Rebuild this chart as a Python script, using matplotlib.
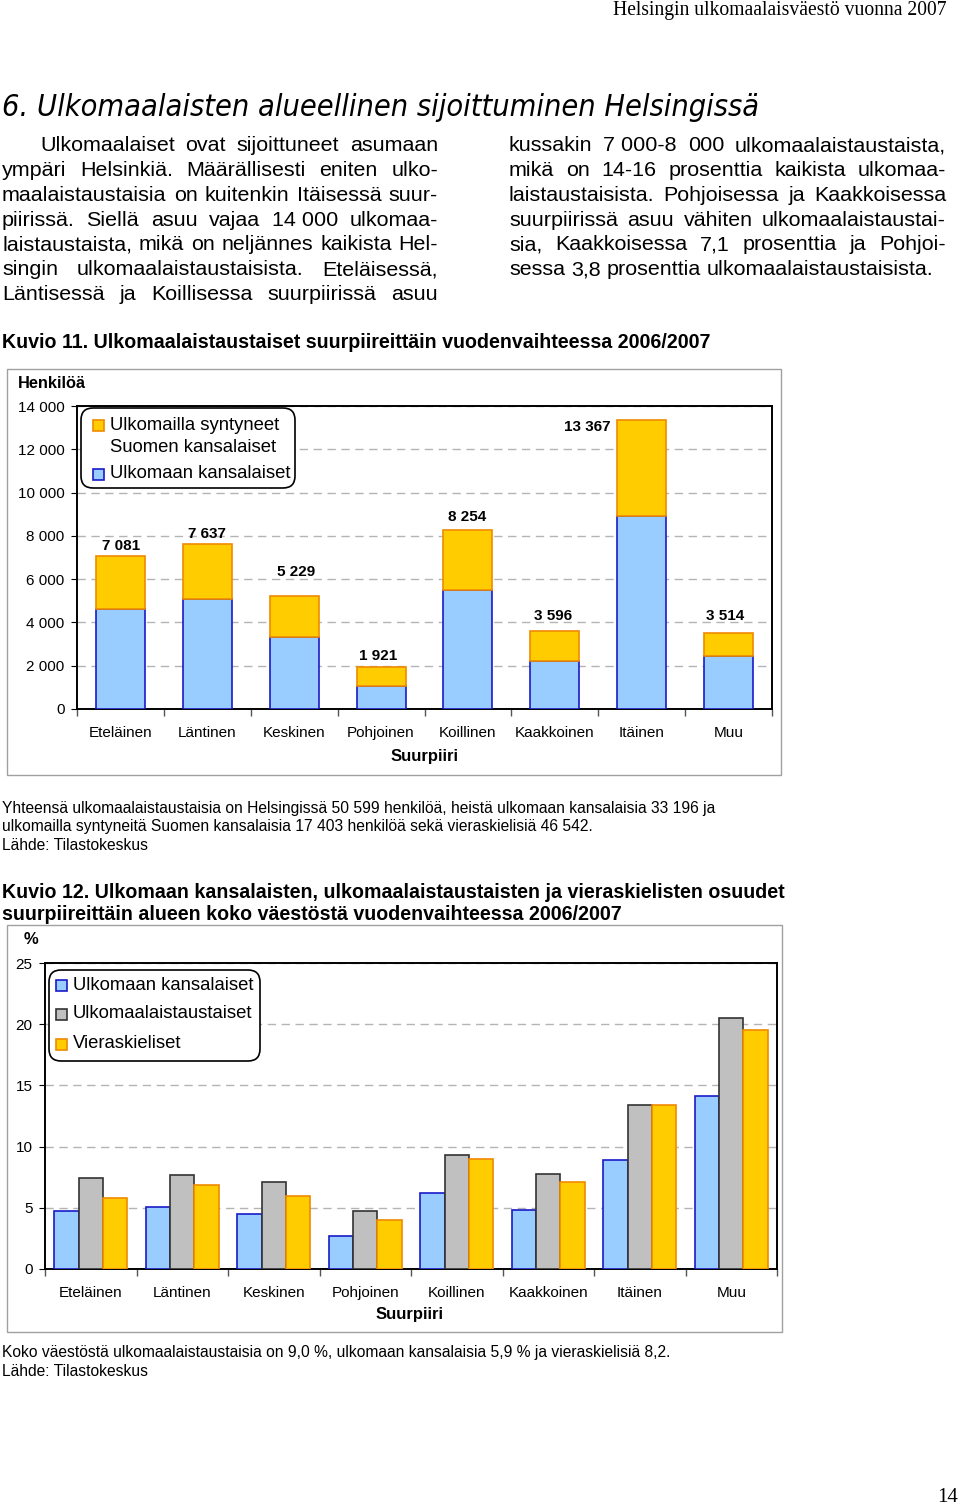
import matplotlib
matplotlib.use("Agg")
import matplotlib.pyplot as plt
from matplotlib.patches import Rectangle, FancyBboxPatch
from matplotlib import font_manager
import numpy as np

# ---------------- data ----------------
districts = ["Eteläinen", "Läntinen", "Keskinen", "Pohjoinen",
             "Koillinen", "Kaakkoinen", "Itäinen", "Muu"]

# Kuvio 11 (persons)
totals_fig11 = [7081, 7637, 5229, 1921, 8254, 3596, 13367, 3514]
foreign_citizens = [4620, 5080, 3310, 1070, 5520, 2200, 8920, 2430]
finnish_born_abroad = [2461, 2557, 1919, 851, 2734, 1396, 4447, 1084]
fig11_yticks = [0, 2000, 4000, 6000, 8000, 10000, 12000, 14000]
fig11_yticklabels = ["0", "2 000", "4 000", "6 000", "8 000", "10 000", "12 000", "14 000"]
fig11_series = ["Ulkomailla syntyneet", "Suomen kansalaiset", "Ulkomaan kansalaiset"]

# Kuvio 12 (% of population)
pct_foreign_citizens = [4.7, 5.1, 4.5, 2.7, 6.2, 4.8, 8.9, 14.1]
pct_foreign_background = [7.4, 7.7, 7.1, 4.7, 9.3, 7.8, 13.4, 20.5]
pct_foreign_language = [5.8, 6.9, 6.0, 4.0, 9.0, 7.1, 13.4, 19.5]
fig12_yticks = [0, 5, 10, 15, 20, 25]
fig12_series = ["Ulkomaan kansalaiset", "Ulkomaalaistaustaiset", "Vieraskieliset"]

# ---------------- texts ----------------
header = "Helsingin ulkomaalaisväestö vuonna 2007"
title = "6. Ulkomaalaisten alueellinen sijoittuminen Helsingissä"
col1_lines = [
    ["Ulkomaalaiset", "ovat", "sijoittuneet", "asumaan"],
    ["ympäri", "Helsinkiä.", "Määrällisesti", "eniten", "ulko-"],
    ["maalaistaustaisia", "on", "kuitenkin", "Itäisessä", "suur-"],
    ["piirissä.", "Siellä", "asuu", "vajaa", "14\u00a0000", "ulkomaa-"],
    ["laistaustaista,", "mikä", "on", "neljännes", "kaikista", "Hel-"],
    ["singin", "ulkomaalaistaustaisista.", "Eteläisessä,"],
    ["Läntisessä", "ja", "Koillisessa", "suurpiirissä", "asuu"],
]
col2_lines = [
    ["kussakin", "7\u00a0000-8", "000", "ulkomaalaistaustaista,"],
    ["mikä", "on", "14-16", "prosenttia", "kaikista", "ulkomaa-"],
    ["laistaustaisista.", "Pohjoisessa", "ja", "Kaakkoisessa"],
    ["suurpiirissä", "asuu", "vähiten", "ulkomaalaistaustai-"],
    ["sia,", "Kaakkoisessa", "7,1", "prosenttia", "ja", "Pohjoi-"],
    ["sessa", "3,8", "prosenttia", "ulkomaalaistaustaisista."],
]
caption11 = "Kuvio 11. Ulkomaalaistaustaiset suurpiireittäin vuodenvaihteessa 2006/2007"
caption12 = ["Kuvio 12. Ulkomaan kansalaisten, ulkomaalaistaustaisten ja vieraskielisten osuudet",
             "suurpiireittäin alueen koko väestöstä vuodenvaihteessa 2006/2007"]
note11 = ["Yhteensä ulkomaalaistaustaisia on Helsingissä 50 599 henkilöä, heistä ulkomaan kansalaisia 33 196 ja",
          "ulkomailla syntyneitä Suomen kansalaisia 17 403 henkilöä sekä vieraskielisiä 46 542.",
          "Lähde: Tilastokeskus"]
note12 = ["Koko väestöstä ulkomaalaistaustaisia on 9,0 %, ulkomaan kansalaisia 5,9 % ja vieraskielisiä 8,2.",
          "Lähde: Tilastokeskus"]

# ---------------- style ----------------
SANS = "Liberation Sans"
SERIF = "Liberation Serif"
BLUE, BLUE_E = "#99CCFF", "#1A1AC8"
ORANGE, ORANGE_E = "#FFCC00", "#F08A00"
GRAY, GRAY_E = "#C0C0C0", "#333333"
GRID = "#B4B4B4"
BOX = "#A0A0A0"

# condensed oblique title font if available
_cond = [f.fname for f in font_manager.fontManager.ttflist
         if "DejaVu Sans" in f.name and f.stretch == "condensed" and f.style in ("oblique", "italic")
         and f.weight in (400, "normal")]
TITLE_FONT = dict(fname=_cond[0]) if _cond else None

W, H, DPI = 960, 1508, 100
fig = plt.figure(figsize=(W / DPI, H / DPI), dpi=DPI)
fig.patch.set_facecolor("white")
T = fig.dpi_scale_trans
renderer = fig.canvas.get_renderer()


def P(x, y):
    return x / DPI, (H - y) / DPI


def ptext(x, y, s, **kw):
    X, Y = P(x, y)
    if "fontproperties" not in kw:
        kw.setdefault("family", SANS)
    return fig.text(X, Y, s, transform=T, **kw)


def wpx(t):
    return t.get_window_extent(renderer).width


def fit_text(x0, x1, y, s, size, **kw):
    t = ptext(x0, y, s, fontsize=size, **kw)
    t.set_fontsize(size * (x1 - x0) / wpx(t))
    return t


def add_axes_px(x0, y0, x1, y1):
    return fig.add_axes([x0 / W, 1 - y1 / H, (x1 - x0) / W, (y1 - y0) / H])


def justify(words, x0, x1, y, size, full=True):
    ts = [ptext(x0, y, w, fontsize=size, va="baseline") for w in words]
    ws = [wpx(t) for t in ts]
    if full and len(ts) > 1:
        gap = (x1 - x0 - sum(ws)) / (len(ts) - 1)
    else:
        gap = 0.278 * size * DPI / 72
    x = x0
    for t, w in zip(ts, ws):
        t.set_position(P(x, y))
        x += w + gap


def frame_box(x0, y0, x1, y1, color=BOX, lw=1.0):
    X0, Y1 = P(x0, y1)
    r = Rectangle((X0, Y1), (x1 - x0) / DPI, (y1 - y0) / DPI, transform=T,
                  fill=False, edgecolor=color, linewidth=lw)
    fig.patches.append(r)


def legend_box(x0, y0, x1, y1):
    X0, Y1 = P(x0, y1)
    p = FancyBboxPatch((X0, Y1), (x1 - x0) / DPI, (y1 - y0) / DPI,
                       boxstyle="round,pad=0,rounding_size=0.12", transform=T,
                       facecolor="white", edgecolor="black", linewidth=1.2, zorder=5)
    fig.patches.append(p)


def legend_square(x, y, fc, ec, s=11):
    X0, Y0 = P(x, y + s / 2)
    r = Rectangle((X0, Y0), s / DPI, s / DPI, transform=T, facecolor=fc,
                  edgecolor=ec, linewidth=1.2, zorder=6)
    fig.patches.append(r)


# ---------------- page text ----------------
fit_text(613, 947, 11, header, 14, family=SERIF, va="center")
if TITLE_FONT:
    fp = font_manager.FontProperties(**TITLE_FONT)
    fit_text(2, 758, 108, title, 18, fontproperties=fp, va="center")
else:
    fit_text(2, 758, 108, title, 16, family="DejaVu Sans", style="italic", va="center")

# body size fitted so that the free last line has its natural width
probe = ptext(0, 0, " ".join(col2_lines[-1]), fontsize=15)
body_size = 15 * 426 / wpx(probe)
probe.remove()
base = 151
lh = 24.85
for i, words in enumerate(col1_lines):
    justify(words, 40 if i == 0 else 2, 438, base + i * lh, body_size)
for i, words in enumerate(col2_lines):
    justify(words, 509, 946, base + i * lh, body_size, full=(i < len(col2_lines) - 1))

fit_text(2, 709, 343, caption11, 13, fontweight="bold", va="center")
c12 = fit_text(2, 781, 892, caption12[0], 13, fontweight="bold", va="center")
ptext(2, 914, caption12[1], fontsize=c12.get_fontsize(), fontweight="bold", va="center")

n11 = fit_text(2, 716, 808, note11[0], 10, va="center")
ptext(2, 827, note11[1], fontsize=n11.get_fontsize(), va="center")
ptext(2, 845, note11[2], fontsize=n11.get_fontsize(), va="center")
n12 = fit_text(2, 671, 1352, note12[0], 10, va="center")
ptext(2, 1371, note12[1], fontsize=n11.get_fontsize(), va="center")

ptext(958, 1497, "14", fontsize=15, family=SERIF, ha="right", va="center")

# ---------------- Kuvio 11 ----------------
frame_box(7, 369, 781, 775)
ax1 = add_axes_px(77, 406, 772, 709)
x = np.arange(len(districts))
ax1.bar(x, foreign_citizens, width=0.565, color=BLUE, edgecolor=BLUE_E, linewidth=1.2, zorder=3)
ax1.bar(x, finnish_born_abroad, bottom=foreign_citizens, width=0.565, color=ORANGE,
        edgecolor=ORANGE_E, linewidth=1.2, zorder=3)
ax1.set_xlim(-0.5, len(districts) - 0.5)
ax1.set_ylim(fig11_yticks[0], fig11_yticks[-1])
ax1.set_yticks(fig11_yticks)
ax1.set_yticklabels(fig11_yticklabels, fontsize=11, family=SANS)
ax1.set_xticks(x)
ax1.set_xticklabels(districts, fontsize=11, family=SANS)
ax1.set_xticks(np.arange(-0.5, len(districts), 1.0), minor=True)
ax1.tick_params(axis="x", which="major", length=0, pad=12)
ax1.tick_params(axis="x", which="minor", length=5, direction="out", width=1, color="#555555")
ax1.tick_params(axis="y", length=4, direction="out", pad=5)
ax1.yaxis.grid(True, linestyle=(0, (6, 4)), color=GRID, linewidth=1)
ax1.set_axisbelow(True)
for s in ax1.spines.values():
    s.set_linewidth(1.4)
    s.set_color("black")

label_dy = [10, 10, 24, 11, 13, 15, -7, 17]
label_dx = [1, 0, 2, -3, -1, -2, -54, -3]
for i, v in enumerate(totals_fig11):
    ax1.annotate(f"{v:,}".replace(",", " "), xy=(i, v), xytext=(label_dx[i], label_dy[i]),
                 textcoords="offset pixels", ha="center", va="center",
                 fontsize=11, fontweight="bold", family=SANS, zorder=6)

ptext(18, 383, "Henkilöä", fontsize=11.8, fontweight="bold", va="center")
ptext(425, 757, "Suurpiiri", fontsize=12, fontweight="bold", ha="center", va="center")

legend_box(81, 408, 295, 488)
legend_square(93, 425, ORANGE, ORANGE_E)
legend_square(93, 474, BLUE, BLUE_E)
for txt, yy in zip(fig11_series, [425, 448, 473]):
    ptext(110, yy, txt, fontsize=13.3, va="center", zorder=7)

# ---------------- Kuvio 12 ----------------
frame_box(7, 925, 782, 1332)
ax2 = add_axes_px(45, 963, 777, 1269)
bw = 0.266
ax2.bar(x - bw, pct_foreign_citizens, width=bw, color=BLUE, edgecolor=BLUE_E, linewidth=1.2, zorder=3)
ax2.bar(x, pct_foreign_background, width=bw, color=GRAY, edgecolor=GRAY_E, linewidth=1.2, zorder=3)
ax2.bar(x + bw, pct_foreign_language, width=bw, color=ORANGE, edgecolor=ORANGE_E, linewidth=1.2, zorder=3)
ax2.set_xlim(-0.5, len(districts) - 0.5)
ax2.set_ylim(fig12_yticks[0], fig12_yticks[-1])
ax2.set_yticks(fig12_yticks)
ax2.set_yticklabels([str(v) for v in fig12_yticks], fontsize=11, family=SANS)
ax2.set_xticks(x)
ax2.set_xticklabels(districts, fontsize=11, family=SANS)
ax2.set_xticks(np.arange(-0.5, len(districts), 1.0), minor=True)
ax2.tick_params(axis="x", which="major", length=0, pad=12)
ax2.tick_params(axis="x", which="minor", length=5, direction="out", width=1, color="#555555")
ax2.tick_params(axis="y", length=4, direction="out", pad=5)
ax2.yaxis.grid(True, linestyle=(0, (6, 4)), color=GRID, linewidth=1)
ax2.set_axisbelow(True)
for s in ax2.spines.values():
    s.set_linewidth(1.4)
    s.set_color("black")

ptext(31, 940, "%", fontsize=12, fontweight="bold", ha="center", va="center")
ptext(410, 1314, "Suurpiiri", fontsize=12, fontweight="bold", ha="center", va="center")

legend_box(49, 970, 260, 1061)
for (fc, ec), txt, yy in zip([(BLUE, BLUE_E), (GRAY, GRAY_E), (ORANGE, ORANGE_E)],
                             fig12_series, [985, 1014, 1044]):
    legend_square(56, yy, fc, ec)
    ptext(73, yy, txt, fontsize=13.3, va="center", zorder=7)

fig.savefig("out.png", dpi=DPI, facecolor="white")
